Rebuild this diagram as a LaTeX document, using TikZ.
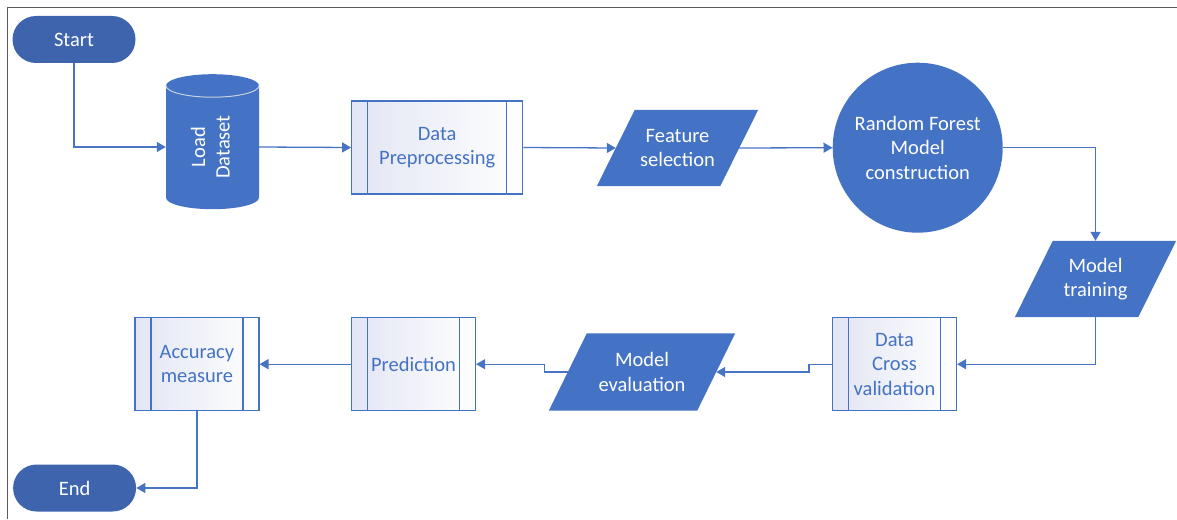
\documentclass[tikz,border=0pt]{standalone}
\usepackage{fontspec}
\setmainfont{Carlito}
\usepackage{graphicx}
\usetikzlibrary{arrows.meta,backgrounds}
\definecolor{shapeblue}{RGB}{68,114,196}
\definecolor{termblue}{RGB}{61,100,172}
\definecolor{lineblue}{RGB}{72,116,196}
\definecolor{boxtint}{RGB}{226,229,243}
\definecolor{framegray}{RGB}{90,90,90}
\definecolor{capline}{RGB}{200,208,225}
\newcommand\parafill[1]{%
  \fill[shapeblue] ([xshift=19pt]#1.north west) -- ([xshift=19pt]#1.north east)
    -- ([xshift=-19pt]#1.south east) -- ([xshift=-19pt]#1.south west) -- cycle;}
\begin{document}
\begin{tikzpicture}[x=1pt,y=-1pt,font=\fontsize{20.5}{24.5}\selectfont,
  term/.style={rectangle, rounded corners=23.5pt, fill=termblue, text=white,
    minimum width=123pt, minimum height=47pt, inner sep=0pt},
  subproc/.style={rectangle, draw=shapeblue, line width=1.2pt, left color=boxtint,
    right color=white, text=shapeblue, align=center, minimum height=93pt, inner sep=0pt,
    path picture={\draw[shapeblue,line width=1.2pt]
      ([xshift=16pt]path picture bounding box.north west) -- ([xshift=16pt]path picture bounding box.south west)
      ([xshift=-16pt]path picture bounding box.north east) -- ([xshift=-16pt]path picture bounding box.south east);}},
  paranode/.style={rectangle, inner sep=0pt, text=white, align=center},
  conn/.style={draw=lineblue, line width=1.3pt, -{Triangle[length=9pt,width=10pt]}}]
\useasboundingbox (0,0) rectangle (1177,519);
% frame
\draw[framegray, line width=1.5pt] (7.5,519) -- (7.5,7.5) -- (1177,7.5);

% nodes
\node[term] (start) at (74,39.5) {Start};
\node[text=white, inner sep=0pt, minimum width=93pt, minimum height=20pt] (load) at (212.5,147)
  {\rotatebox{90}{\begin{tabular}{@{}c@{}}Load\\Dataset\end{tabular}}};
\node[subproc, minimum width=171pt] (prep) at (437.2,147.5) {Data\\Preprocessing};
\node[paranode, minimum width=123pt, minimum height=76pt] (fs) at (677.5,148) {Feature\\selection};
\node[circle, fill=shapeblue, text=white, align=center, minimum size=170pt, inner sep=0pt]
  (rf) at (917.7,147.7) {Random Forest\\Model\\construction};
\node[paranode, minimum width=123pt, minimum height=76pt] (mt) at (1095.5,279) {Model\\training};
\node[subproc, minimum width=124pt] (dcv) at (894.5,364.2) {Data\\Cross\\validation};
\node[paranode, minimum width=148pt, minimum height=77pt] (me) at (642,372) {Model\\evaluation};
\node[subproc, minimum width=124pt] (pred) at (413.5,364.2) {Prediction};
\node[subproc, minimum width=124pt] (acc) at (196.9,364.2) {Accuracy\\measure};
\node[term] (end) at (74.6,488) {End};

% background shapes
\begin{scope}[on background layer]
  \fill[shapeblue] (166,85.7) -- (166,197.7)
    .. controls (166,204.05) and (186.8,209.2) .. (212.5,209.2)
    .. controls (238.2,209.2) and (259,204.05) .. (259,197.7)
    -- (259,85.7)
    .. controls (259,79.35) and (238.2,74.2) .. (212.5,74.2)
    .. controls (186.8,74.2) and (166,79.35) .. (166,85.7) -- cycle;
  \draw[capline, line width=1pt] (166,85.7)
    .. controls (166,92.05) and (186.8,97.2) .. (212.5,97.2)
    .. controls (238.2,97.2) and (259,92.05) .. (259,85.7);
  \parafill{fs}
  \parafill{mt}
  \parafill{me}
\end{scope}

% connectors
\draw[conn] (start.south) |- (load.west);
\draw[conn] (load.east) -- (prep.west);
\draw[conn] (prep.east) -- (fs.west);
\draw[conn] (fs.east) -- (rf.west);
\draw[conn] (rf.east) -| (mt.north);
\draw[conn] (mt.south) |- (dcv.east);
\draw[conn] (dcv.west) -- ++(-23,0) |- (me.east);
\draw[conn] (me.west) -- ++(-23,0) |- (pred.east);
\draw[conn] (pred.west) -- (acc.east);
\draw[conn] (acc.south) |- (end.east);
\end{tikzpicture}
\end{document}
